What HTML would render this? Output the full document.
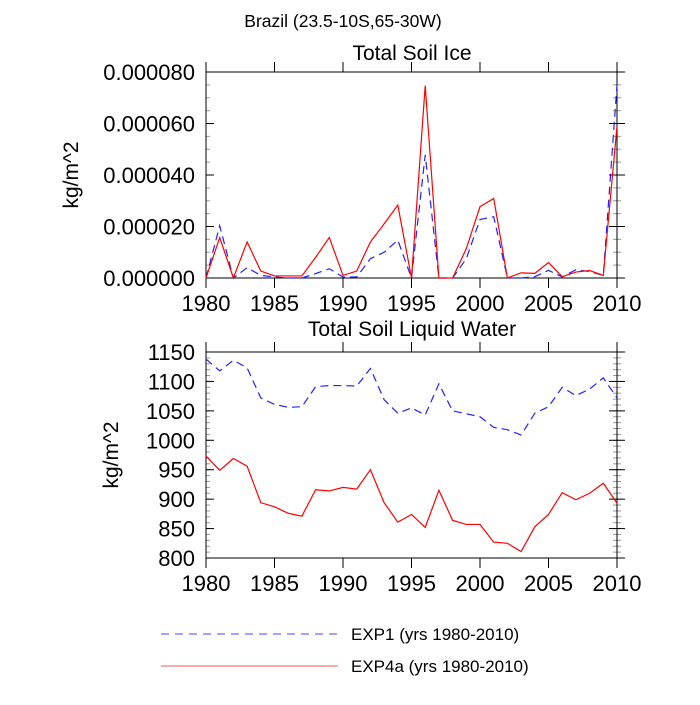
<!DOCTYPE html>
<html><head><meta charset="utf-8"><style>
body{margin:0;background:#fff}
svg text{font-family:"Liberation Sans",sans-serif;fill:#000}
</style></head><body>
<svg id="c" width="700" height="700" xmlns="http://www.w3.org/2000/svg">
<text x="343" y="27" font-size="17.5" text-anchor="middle">Brazil (23.5-10S,65-30W)</text>
<g id="top"></g>
<g id="bot"></g>
<g>
<line x1="161" y1="634" x2="338" y2="634" stroke="#4444ff" stroke-width="1" stroke-dasharray="8,6"/>
<text x="351" y="640" font-size="17">EXP1 (yrs 1980-2010)</text>
<line x1="161" y1="666" x2="338" y2="666" stroke="#ff5555" stroke-width="1"/>
<text x="351" y="672" font-size="17">EXP4a (yrs 1980-2010)</text>
</g>
</svg>
<script>
const years=[];for(let y=1980;y<=2010;y++)years.push(y);
const iceExp1=[0,2.03,0,0.4,0.1,0.04,0,0,0.17,0.36,0.04,0.04,0.75,1.0,1.47,0,4.78,0,0,0.75,2.27,2.38,0,0,0.05,0.3,0.04,0.32,0.25,0.1,7.5];
const iceExp4a=[0,1.57,0,1.4,0.27,0.08,0.08,0.08,0.8,1.57,0.1,0.27,1.4,2.1,2.83,0,7.47,0,0,1.14,2.77,3.09,0,0.2,0.18,0.6,0.05,0.23,0.29,0.1,5.9];
const liqExp1=[1138,1118,1136,1123,1072,1061,1056,1057,1091,1093,1093,1092,1122,1069,1046,1055,1043,1096,1050,1045,1040,1022,1018,1009,1046,1057,1090,1076,1087,1106,1072];
const liqExp4a=[973,949,969,956,894,887,876,871,916,914,920,917,950,894,861,874,852,915,864,857,857,827,825,811,853,874,911,899,910,927,893];
const xTicks=[1980,1985,1990,1995,2000,2005,2010];
const iceTicks=[0,2,4,6,8];
const iceTickLabels=["0.000000","0.000020","0.000040","0.000060","0.000080"];
const liqTicks=[800,850,900,950,1000,1050,1100,1150];
const NS="http://www.w3.org/2000/svg";
function mk(p,t,a){const e=document.createElementNS(NS,t);for(const k in a)e.setAttribute(k,a[k]);p.appendChild(e);return e;}
function panel(g,top,bot,ymin,ymax,yt,ytl,minorStep,s1,s2,title,titleY,ytitleX,key){
 const L=206,R=617;
 const X=v=>L+(v-1980)/30*(R-L);
 const Y=v=>bot-(v-ymin)/(ymax-ymin)*(bot-top);
 for(let v=ymin;v<=ymax+1e-9;v+=minorStep){
  const y=Y(v);
  let a=mk(g,'line',{x1:L,x2:L+4,y1:y,y2:y,stroke:'#999','stroke-width':1});
  
  a=mk(g,'line',{x1:R-4,x2:R+4,y1:y,y2:y,stroke:'#999','stroke-width':1});
  
 }
 yt.forEach((v,i)=>{const y=Y(v);
  let a=mk(g,'line',{x1:L,x2:L+8,y1:y,y2:y,stroke:'#000','stroke-width':1});
  
  a=mk(g,'line',{x1:R-8,x2:R+8,y1:y,y2:y,stroke:'#000','stroke-width':1});
  
  const t=mk(g,'text',{x:L-11,y:y+8,'font-size':22,'text-anchor':'end'});t.textContent=ytl[i];
  
 });
 xTicks.forEach(v=>{const x=X(v);
  let a=mk(g,'line',{x1:x,x2:x,y1:bot,y2:bot+10,stroke:'#000','stroke-width':1});
  
  a=mk(g,'line',{x1:x,x2:x,y1:top-10,y2:top,stroke:'#000','stroke-width':1});
  
  const t=mk(g,'text',{x:x,y:bot+33,'font-size':22,'text-anchor':'middle'});t.textContent=v;
  
 });
 const fr=mk(g,'rect',{x:L,y:top,width:R-L,height:bot-top,fill:'none',stroke:'#000','stroke-width':1});
 
 const p1=mk(g,'polyline',{points:s1.map((v,i)=>X(years[i])+','+Y(v)).join(' '),fill:'none',stroke:'#2222ff','stroke-width':1.2,'stroke-dasharray':'8,5'});
 
 const p2=mk(g,'polyline',{points:s2.map((v,i)=>X(years[i])+','+Y(v)).join(' '),fill:'none',stroke:'#ff0000','stroke-width':1.2});
 
 const t=mk(g,'text',{x:412,y:titleY,'font-size':21,'text-anchor':'middle'});t.textContent=title;
 
 const yt2=mk(g,'text',{x:ytitleX,y:(top+bot)/2,'font-size':21,'text-anchor':'middle',transform:`rotate(-90 ${ytitleX} ${(top+bot)/2})`});yt2.textContent='kg/m^2';
 
}
panel(document.getElementById('top'),72,278,0,8,iceTicks,iceTickLabels,0.5,iceExp1,iceExp4a,'Total Soil Ice',60,78,'ice');
panel(document.getElementById('bot'),352,558,800,1150,liqTicks,liqTicks.map(String),10,liqExp1,liqExp4a,'Total Soil Liquid Water',336,118,'liquid');
</script>
</body></html>
